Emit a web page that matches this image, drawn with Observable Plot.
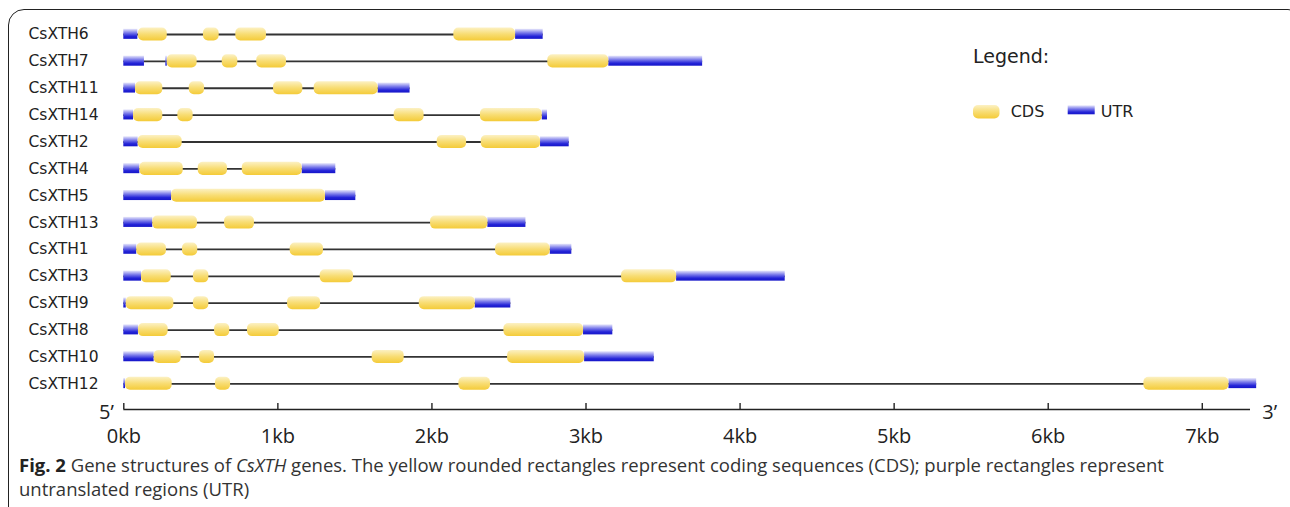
<!DOCTYPE html>
<html>
<head>
<meta charset="utf-8">
<script src="https://cdn.jsdelivr.net/npm/d3@7"></script>
<script src="https://cdn.jsdelivr.net/npm/@observablehq/plot@0.6"></script>
<style>
  html, body { margin: 0; padding: 0; background: #fff; }
  #page { position: relative; width: 1290px; height: 507px; overflow: hidden; }
  #border {
    position: absolute; left: 8px; top: 9px; width: 1296px; height: 540px;
    border: 1.6px solid #222; border-radius: 16px; box-sizing: border-box;
  }
  #chart { position: absolute; left: 0; top: 0; }
  #scale { position: absolute; left: 0; top: 400px; }
  #caption {
    position: absolute; left: 19px; top: 453px;
    font-family: "Open Sans", sans-serif; font-size: 18.5px; line-height: 24px;
    color: #333; white-space: nowrap;
  }
  #caption b { color: #222; }
</style>
</head>
<body>
<div id="page">
  <div id="border"></div>
  <div id="chart"></div>
  <div id="scale"></div>
  <div id="caption"><b>Fig. 2</b> Gene structures of <i>CsXTH</i> genes. The yellow rounded rectangles represent coding sequences (CDS); purple rectangles represent<br>untranslated regions (UTR)</div>
</div>
<script>
// Genes, top to bottom
const genes = ["CsXTH6", "CsXTH7", "CsXTH11", "CsXTH14", "CsXTH2", "CsXTH4", "CsXTH5",
               "CsXTH13", "CsXTH1", "CsXTH3", "CsXTH9", "CsXTH8", "CsXTH10", "CsXTH12"];

// Coding sequences: [gene, start kb, end kb]
const cdsSegments = [
  ["CsXTH6", 0.095, 0.282], ["CsXTH6", 0.517, 0.619], ["CsXTH6", 0.727, 0.926], ["CsXTH6", 2.142, 2.543],
  ["CsXTH7", 0.282, 0.476], ["CsXTH7", 0.639, 0.740], ["CsXTH7", 0.863, 1.056], ["CsXTH7", 2.752, 3.148],
  ["CsXTH11", 0.076, 0.253], ["CsXTH11", 0.425, 0.524], ["CsXTH11", 0.972, 1.162], ["CsXTH11", 1.236, 1.651],
  ["CsXTH14", 0.063, 0.253], ["CsXTH14", 0.351, 0.450], ["CsXTH14", 1.755, 1.949], ["CsXTH14", 2.315, 2.716],
  ["CsXTH2", 0.093, 0.379], ["CsXTH2", 2.034, 2.225], ["CsXTH2", 2.320, 2.705],
  ["CsXTH4", 0.104, 0.386], ["CsXTH4", 0.483, 0.673], ["CsXTH4", 0.769, 1.158],
  ["CsXTH5", 0.310, 1.309],
  ["CsXTH13", 0.188, 0.478], ["CsXTH13", 0.654, 0.848], ["CsXTH13", 1.991, 2.363],
  ["CsXTH1", 0.084, 0.277], ["CsXTH1", 0.381, 0.480], ["CsXTH1", 1.080, 1.296], ["CsXTH1", 2.413, 2.768],
  ["CsXTH3", 0.115, 0.308], ["CsXTH3", 0.452, 0.552], ["CsXTH3", 1.275, 1.491], ["CsXTH3", 3.231, 3.588],
  ["CsXTH9", 0.016, 0.325], ["CsXTH9", 0.452, 0.552], ["CsXTH9", 1.063, 1.277], ["CsXTH9", 1.918, 2.281],
  ["CsXTH8", 0.095, 0.288], ["CsXTH8", 0.589, 0.688], ["CsXTH8", 0.803, 1.009], ["CsXTH8", 2.467, 2.984],
  ["CsXTH10", 0.197, 0.373], ["CsXTH10", 0.491, 0.589], ["CsXTH10", 1.612, 1.820], ["CsXTH10", 2.491, 2.991],
  ["CsXTH12", 0.011, 0.314], ["CsXTH12", 0.595, 0.693], ["CsXTH12", 2.175, 2.380], ["CsXTH12", 6.621, 7.173]
];

// Untranslated regions: [gene, start kb, end kb]
const utrSegments = [
  ["CsXTH6", 0, 0.091], ["CsXTH6", 2.543, 2.722],
  ["CsXTH7", 0, 0.134], ["CsXTH7", 0.273, 0.282], ["CsXTH7", 3.148, 3.757],
  ["CsXTH11", 0, 0.076], ["CsXTH11", 1.651, 1.858],
  ["CsXTH14", 0, 0.063], ["CsXTH14", 2.716, 2.750],
  ["CsXTH2", 0, 0.093], ["CsXTH2", 2.705, 2.891],
  ["CsXTH4", 0, 0.104], ["CsXTH4", 1.158, 1.376],
  ["CsXTH5", 0, 0.310], ["CsXTH5", 1.309, 1.506],
  ["CsXTH13", 0, 0.188], ["CsXTH13", 2.363, 2.610],
  ["CsXTH1", 0, 0.084], ["CsXTH1", 2.768, 2.908],
  ["CsXTH3", 0, 0.115], ["CsXTH3", 3.588, 4.293],
  ["CsXTH9", 0, 0.016], ["CsXTH9", 2.281, 2.512],
  ["CsXTH8", 0, 0.095], ["CsXTH8", 2.984, 3.174],
  ["CsXTH10", 0, 0.197], ["CsXTH10", 2.991, 3.443],
  ["CsXTH12", 0, 0.011], ["CsXTH12", 7.173, 7.353]
];

// Scale bar ticks (kb)
const axisTicks = [0, 1, 2, 3, 4, 5, 6, 7];
const axisEnd = 7.313;

// Full extent of each gene, for the intron line
const geneSpans = genes.map(g => {
  const segs = cdsSegments.concat(utrSegments).filter(d => d[0] === g);
  return {gene: g, start: d3.min(segs, d => d[1]), end: d3.max(segs, d => d[2])};
});

const labelFont = "'DejaVu Sans', Verdana, sans-serif";

// Gene models
const chart = Plot.plot({
  width: 1290,
  height: 400,
  marginLeft: 123.3,
  marginRight: 40,
  marginTop: 20,
  marginBottom: 0,
  style: {fontFamily: "'Open Sans', sans-serif", color: "#222", background: "transparent", overflow: "visible"},
  x: {domain: [0, axisEnd], axis: null},
  y: {type: "band", domain: genes, range: [20.57, 396.73], padding: 0, round: false, axis: null},
  marks: [
    Plot.ruleY(geneSpans, {y: "gene", x1: "start", x2: "end", stroke: "#333", strokeWidth: 1.8}),
    Plot.barX(utrSegments, {y: d => d[0], x1: d => d[1], x2: d => d[2],
      insetTop: 8.2, insetBottom: 8.6, fill: "url(#utrGrad)"}),
    Plot.barX(cdsSegments, {y: d => d[0], x1: d => d[1], x2: d => d[2],
      insetTop: 6.9, insetBottom: 6.9, rx: 5, fill: "url(#cdsGrad)"}),
    Plot.text(genes, {y: d => d, frameAnchor: "left", dx: -95.3, textAnchor: "start",
      fontSize: 15.5, fontFamily: labelFont, fill: "#222"})
  ]
});

// Gradients used by the CDS and UTR boxes
const svg = d3.select(chart);
const defs = svg.insert("defs", ":first-child");
const cdsGrad = defs.append("linearGradient").attr("id", "cdsGrad").attr("x1", 0).attr("y1", 0).attr("x2", 0).attr("y2", 1);
cdsGrad.append("stop").attr("offset", "0%").attr("stop-color", "#fcf1c4");
cdsGrad.append("stop").attr("offset", "50%").attr("stop-color", "#f8dd74");
cdsGrad.append("stop").attr("offset", "100%").attr("stop-color", "#f4cb38");
const utrGrad = defs.append("linearGradient").attr("id", "utrGrad").attr("x1", 0).attr("y1", 0).attr("x2", 0).attr("y2", 1);
utrGrad.append("stop").attr("offset", "0%").attr("stop-color", "#e8e8fb");
utrGrad.append("stop").attr("offset", "40%").attr("stop-color", "#7a7aea");
utrGrad.append("stop").attr("offset", "75%").attr("stop-color", "#2424d8");
utrGrad.append("stop").attr("offset", "100%").attr("stop-color", "#1616c8");

// Legend
const legend = svg.append("g").attr("font-family", labelFont).attr("fill", "#222").attr("text-anchor", "start");
legend.append("text").attr("x", 973).attr("y", 63).attr("font-size", 19).text("Legend:");
legend.append("rect").attr("x", 973).attr("y", 105).attr("width", 26.5).attr("height", 13.5).attr("rx", 5).attr("fill", "url(#cdsGrad)");
legend.append("text").attr("x", 1010.7).attr("y", 116.7).attr("font-size", 16).text("CDS");
legend.append("rect").attr("x", 1067.7).attr("y", 105.3).attr("width", 27).attr("height", 9).attr("fill", "url(#utrGrad)");
legend.append("text").attr("x", 1100.7).attr("y", 116.7).attr("font-size", 16).text("UTR");

document.getElementById("chart").appendChild(chart);

// Scale bar (5' to 3', in kb): baseline at y = 0, ticks rise to y = 1
const scaleBar = Plot.plot({
  width: 1290,
  height: 52,
  marginLeft: 123.3,
  marginRight: 40,
  marginTop: 0,
  marginBottom: 0,
  style: {fontFamily: "'Open Sans', sans-serif", color: "#222", background: "transparent", overflow: "visible"},
  x: {domain: [0, axisEnd], axis: null},
  y: {domain: [0, 1], range: [9, 3], axis: null},
  marks: [
    Plot.ruleY([0], {stroke: "#222", strokeWidth: 1.6}),
    Plot.ruleX(axisTicks, {x: d => d, y1: () => 0, y2: () => 1, stroke: "#222", strokeWidth: 1.4}),
    Plot.text(axisTicks, {x: d => d, y: () => 0, dy: 26.6, text: d => `${d}kb`, fontSize: 20, fill: "#222"}),
    Plot.text(["5’"], {y: () => 0, frameAnchor: "left", textAnchor: "end", dx: -10, dy: 3, fontSize: 20, fill: "#222"}),
    Plot.text(["3’"], {y: () => 0, frameAnchor: "right", textAnchor: "start", dx: 11.7, dy: 3, fontSize: 20, fill: "#222"})
  ]
});
document.getElementById("scale").appendChild(scaleBar);
</script>
</body>
</html>
